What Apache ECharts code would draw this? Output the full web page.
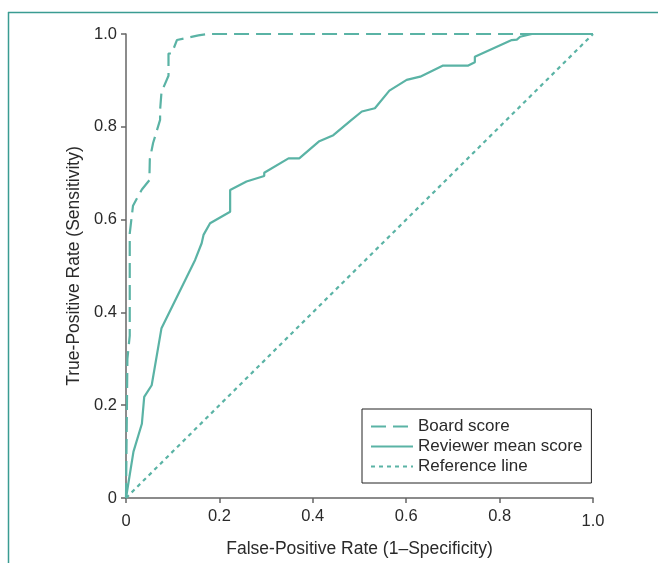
<!DOCTYPE html>
<html>
<head>
<meta charset="utf-8">
<script src="https://cdn.jsdelivr.net/npm/echarts@6/dist/echarts.min.js"></script>
<style>
html,body{margin:0;padding:0;background:#fff;}
#chart{width:658px;height:563px;}
</style>
</head>
<body>
<div id="chart"></div>
<script>
// Data (FPR, TPR)
var seriesNames = ['Board score', 'Reviewer mean score', 'Reference line'];
var xTicks = ['0', '0.2', '0.4', '0.6', '0.8', '1.0'];
var yTicks = ['0', '0.2', '0.4', '0.6', '0.8', '1.0'];

var boardFpr = [0, 0.002, 0.003, 0.008, 0.008, 0.015, 0.034, 0.050, 0.051, 0.058, 0.073, 0.073, 0.076, 0.091, 0.091, 0.098, 0.109, 0.155, 0.176, 1.0];
var boardTpr = [0, 0.20, 0.30, 0.35, 0.57, 0.63, 0.665, 0.685, 0.73, 0.765, 0.815, 0.836, 0.875, 0.91, 0.958, 0.958, 0.987, 0.997, 1.0, 1.0];

var reviewerFpr = [0, 0.016, 0.034, 0.039, 0.055, 0.076, 0.148, 0.162, 0.166, 0.180, 0.223, 0.223, 0.258, 0.296, 0.296, 0.348, 0.371, 0.414, 0.444, 0.483, 0.505, 0.533, 0.564, 0.601, 0.630, 0.679, 0.733, 0.747, 0.747, 0.826, 0.837, 0.844, 0.869, 1.0];
var reviewerTpr = [0, 0.10, 0.16, 0.218, 0.243, 0.366, 0.513, 0.549, 0.567, 0.592, 0.617, 0.664, 0.682, 0.694, 0.701, 0.732, 0.732, 0.769, 0.782, 0.815, 0.833, 0.840, 0.878, 0.901, 0.908, 0.932, 0.932, 0.939, 0.951, 0.987, 0.988, 0.994, 1.0, 1.0];

var refFpr = [0, 1];
var refTpr = [0, 1];

function pairs(xs, ys) { return xs.map(function (x, i) { return [x, ys[i]]; }); }

var lineColor = '#5ab3a5';
var textColor = '#2a2a2a';
var font = '"Liberation Sans", Arial, Helvetica, sans-serif';

var chart = echarts.init(document.getElementById('chart'), null, {renderer: 'canvas'});
chart.setOption({
  animation: false,
  backgroundColor: '#fff',
  textStyle: {fontFamily: font},
  graphic: [
    {type: 'line', shape: {x1: 8, y1: 12.5, x2: 658, y2: 12.5}, style: {stroke: '#3a9c92', lineWidth: 1.5}, z: 0},
    {type: 'line', shape: {x1: 8.5, y1: 12, x2: 8.5, y2: 563}, style: {stroke: '#3a9c92', lineWidth: 1.5}, z: 0}
  ],
  grid: {left: 126, right: 65, top: 34, bottom: 65, containLabel: false},
  legend: {
    orient: 'vertical',
    left: 362, top: 409,
    padding: [9, 9, 8, 8],
    itemGap: 3,
    itemWidth: 42, itemHeight: 17,
    itemStyle: {opacity: 0},
    borderColor: '#222', borderWidth: 1,
    backgroundColor: '#fff',
    textStyle: {fontSize: 17, color: textColor, fontFamily: font},
    data: seriesNames
  },
  xAxis: {
    type: 'value', min: 0, max: 1, interval: 0.2,
    name: 'False-Positive Rate (1–Specificity)',
    nameLocation: 'middle', nameGap: 42,
    nameTextStyle: {fontSize: 17.5, color: textColor, fontFamily: font},
    axisLine: {show: true, lineStyle: {color: '#666', width: 1.5}},
    axisTick: {show: true, inside: false, length: 5, lineStyle: {color: '#666', width: 1.5}},
    splitLine: {show: false},
    axisLabel: {
      fontSize: 16.5, color: textColor, margin: 10, fontFamily: font,
      formatter: function (v) {
        var i = Math.round(v / 0.2);
        var t = xTicks[i];
        if (i === 0 || i === 5) return '{e|' + t + '}';
        return t;
      },
      rich: {e: {fontSize: 16.5, color: textColor, padding: [5, 0, 0, 0], fontFamily: font}}
    }
  },
  yAxis: {
    type: 'value', min: 0, max: 1, interval: 0.2,
    name: 'True-Positive Rate (Sensitivity)',
    nameLocation: 'middle', nameGap: 37,
    nameTextStyle: {fontSize: 17.5, color: textColor, fontFamily: font},
    axisLine: {show: true, lineStyle: {color: '#666', width: 1.5}},
    axisTick: {show: true, inside: false, length: 5, lineStyle: {color: '#666', width: 1.5}},
    splitLine: {show: false},
    axisLabel: {
      fontSize: 16.5, color: textColor, margin: 9, fontFamily: font,
      formatter: function (v) { return yTicks[Math.round(v / 0.2)]; }
    }
  },
  series: [
    {
      name: seriesNames[0], type: 'line', data: pairs(boardFpr, boardTpr),
      symbol: 'none', z: 3,
      lineStyle: {color: lineColor, width: 2.2, type: [15, 7]},
      itemStyle: {color: lineColor}
    },
    {
      name: seriesNames[1], type: 'line', data: pairs(reviewerFpr, reviewerTpr),
      symbol: 'none', z: 2,
      lineStyle: {color: lineColor, width: 2.2, type: 'solid'},
      itemStyle: {color: lineColor}
    },
    {
      name: seriesNames[2], type: 'line', data: pairs(refFpr, refTpr),
      symbol: 'none', z: 2,
      lineStyle: {color: lineColor, width: 2.2, type: [4, 4]},
      itemStyle: {color: lineColor}
    }
  ]
});
</script>
</body>
</html>
